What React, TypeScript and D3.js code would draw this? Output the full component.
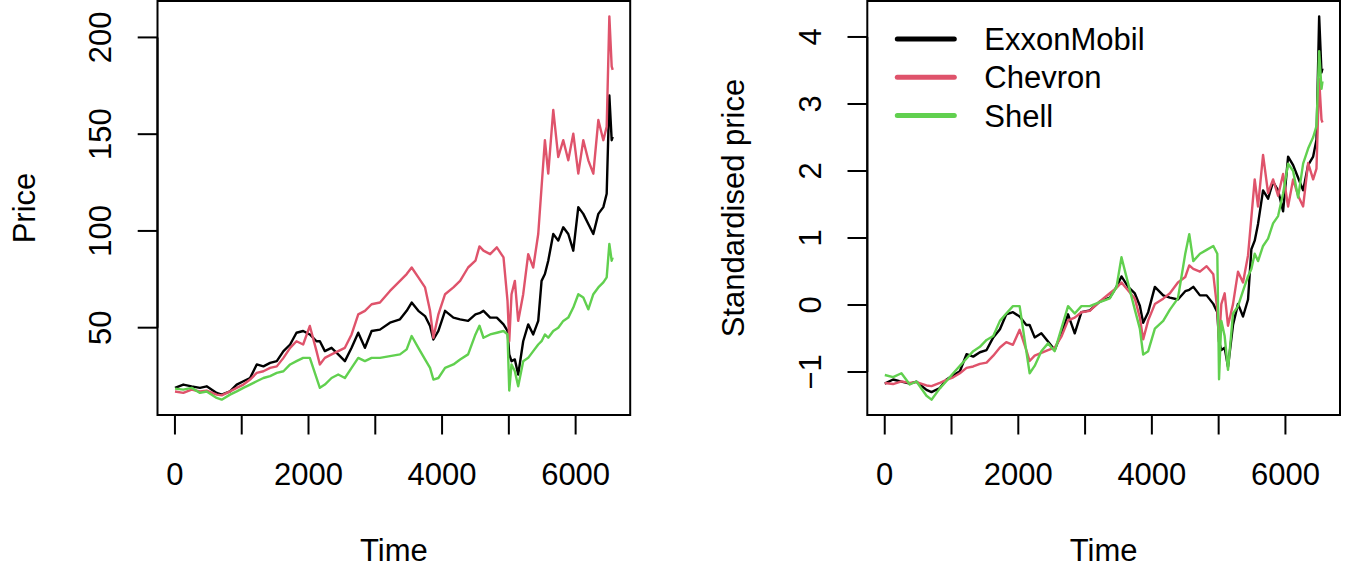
import React, { useEffect, useRef } from 'react'
import * as d3 from 'd3'

// trading day index of each reading
const time = [
	1, 125, 250, 375, 475, 625, 700, 825, 925, 1025,
	1125, 1225, 1325, 1425, 1525, 1625, 1725, 1820, 1920, 2020,
	2120, 2170, 2245, 2345, 2445, 2545, 2645, 2745, 2845, 2945,
	3070, 3220, 3370, 3470, 3545, 3645, 3745, 3820, 3870, 3945,
	4045, 4170, 4270, 4390, 4500, 4560, 4620, 4720, 4820, 4920,
	4980, 5006, 5040, 5090, 5140, 5215, 5290, 5365, 5440, 5490,
	5540, 5590, 5665, 5740, 5815, 5890, 5965, 6040, 6115, 6190,
	6265, 6340, 6415, 6465, 6505, 6540, 6555,
]

const exxonPrice = [
	18.9, 20.6, 19.7, 18.9, 19.7, 16.3, 15.4, 17.1, 20.6, 22.3,
	24, 31, 30, 31.8, 32.7, 37.9, 41.3, 47.4, 48.3, 46.5,
	43, 43, 37.9, 39.6, 36.2, 32.7, 39.6, 47.4, 39.6, 48.3,
	49, 52.6, 54.3, 58.7, 63, 58.7, 56, 50.9, 43.9, 48.3,
	58.7, 55.2, 54.3, 53.5, 56.9, 57.5, 58.7, 55.2, 55.2, 51.7,
	48.3, 36.2, 32.7, 33.6, 25.8, 43, 51.7, 46.5, 53.5, 74.2,
	77.7, 84.6, 98.4, 95, 101.9, 98.4, 89.8, 112.3, 108.8, 103.6,
	98.4, 108.8, 112.3, 119.2, 170, 146.9, 148.6,
]

const chevronPrice = [
	17, 16.3, 18, 17, 17.5, 15.4, 15, 17.1, 18.9, 20.6,
	23.2, 26.6, 27.5, 29.2, 30, 34.4, 39.6, 43, 41.3, 50.9,
	37.9, 31, 34.4, 36.2, 37.9, 39.6, 46.5, 56.9, 58.7, 62.1,
	63, 69, 74.2, 77.7, 81.1, 76, 70.8, 58.7, 44.8, 56.9,
	67.3, 70.8, 74.2, 81.1, 84.6, 92, 89.8, 88, 91.5, 86.3,
	63.8, 43, 67.3, 74.2, 53.5, 67.3, 88, 81.1, 98.4, 122.7,
	146.9, 129.6, 162.5, 138.2, 146.9, 136.5, 150.3, 129.6, 146.9, 136.5,
	129.6, 157.3, 146.9, 153.8, 210.9, 185, 183.2,
]

const shellPrice = [
	18.5, 18, 18.9, 16.3, 17, 13.7, 12.8, 15.4, 17.1, 18.9,
	20.6, 22.3, 24, 25, 26.6, 27.5, 31, 32.7, 34.4, 34.4,
	24, 18.9, 20.6, 24, 25.8, 24, 29.2, 34.4, 32.7, 34.4,
	34.4, 35.3, 36.2, 38.8, 45.7, 39.6, 33.6, 29.2, 23.2, 24,
	29.2, 31, 33.6, 36.2, 46.5, 51, 44.8, 46.5, 47.4, 48.3,
	46.5, 17.5, 31, 27.5, 19.7, 32.7, 34.4, 37.9, 41.3, 43,
	46.5, 44.8, 48.3, 50, 53.5, 55.2, 60.4, 67.3, 65.6, 59.5,
	67.3, 70.8, 73.4, 76, 93.3, 84.6, 86.3,
]

const seriesNames = ['ExxonMobil', 'Chevron', 'Shell']
const seriesColors = ['#000000', '#DF536B', '#61D04F']

const timeTicks = [0, 1000, 2000, 3000, 4000, 5000, 6000]
const timeTickLabels = ['0', '', '2000', '', '4000', '', '6000']
const priceTicks = [50, 100, 150, 200]
const priceTickLabels = ['50', '100', '150', '200']
const stdTicks = [-1, 0, 1, 2, 3, 4]
const stdTickLabels = ['\u22121', '0', '1', '2', '3', '4']

// z-score, weighting each reading by the time span it covers
const standardise = (v: number[]) => {
	const w = v.map((_, i) => {
		const a = time[Math.max(i - 1, 0)]
		const b = time[Math.min(i + 1, time.length - 1)]
		return (b - a) / 2
	})
	const W = d3.sum(w)
	const mean = d3.sum(v, (d, i) => d * w[i]) / W
	const sd = Math.sqrt(d3.sum(v, (d, i) => w[i] * (d - mean) ** 2) / W)
	return v.map(d => (d - mean) / sd)
}

const FONT = '"Liberation Sans", Arial, sans-serif'
const FS = 31

// R style range: data extent padded by 4% on each side
const rRange = (vals: number[]) => {
	const [lo, hi] = d3.extent(vals) as [number, number]
	const pad = (hi - lo) * 0.04
	return [lo - pad, hi + pad]
}

const drawPanel = (svg, opts) => {
	const { left, right, top, bottom, series, yTicks, yTickLabels, yTitle, legend } = opts
	const g = svg.append('g')

	const x = d3.scaleLinear().domain(rRange(time)).range([left, right])
	const y = d3.scaleLinear().domain(rRange(series.flat())).range([bottom, top])

	const line = d3
		.line<number>()
		.x((d, i) => x(time[i]))
		.y(d => y(d))

	series.forEach((s, k) => {
		g.append('path')
			.attr('d', line(s))
			.attr('fill', 'none')
			.attr('stroke', seriesColors[k])
			.attr('stroke-width', 2.4)
			.attr('stroke-linejoin', 'round')
	})

	g.append('rect')
		.attr('x', left)
		.attr('y', top)
		.attr('width', right - left)
		.attr('height', bottom - top)
		.attr('fill', 'none')
		.attr('stroke', '#000')
		.attr('stroke-width', 2)

	// x axis
	g.append('line')
		.attr('x1', x(timeTicks[0])).attr('x2', x(timeTicks[timeTicks.length - 1]))
		.attr('y1', bottom).attr('y2', bottom)
		.attr('stroke', '#000').attr('stroke-width', 2)
	timeTicks.forEach((t, i) => {
		g.append('line')
			.attr('x1', x(t)).attr('x2', x(t))
			.attr('y1', bottom).attr('y2', bottom + 19.5)
			.attr('stroke', '#000').attr('stroke-width', 2)
		if (timeTickLabels[i])
			g.append('text')
				.attr('x', x(t)).attr('y', bottom + 70)
				.attr('text-anchor', 'middle')
				.text(timeTickLabels[i])
	})
	g.append('text')
		.attr('x', (left + right) / 2).attr('y', bottom + 146)
		.attr('text-anchor', 'middle')
		.text('Time')

	// y axis
	g.append('line')
		.attr('x1', left).attr('x2', left)
		.attr('y1', y(yTicks[0])).attr('y2', y(yTicks[yTicks.length - 1]))
		.attr('stroke', '#000').attr('stroke-width', 2)
	yTicks.forEach((v, i) => {
		g.append('line')
			.attr('x1', left - 19.8).attr('x2', left)
			.attr('y1', y(v)).attr('y2', y(v))
			.attr('stroke', '#000').attr('stroke-width', 2)
		g.append('text')
			.attr('transform', `translate(${left - 46.5},${y(v)}) rotate(-90)`)
			.attr('text-anchor', 'middle')
			.text(yTickLabels[i])
	})
	g.append('text')
		.attr('transform', `translate(${left - 123},${(top + bottom) / 2}) rotate(-90)`)
		.attr('text-anchor', 'middle')
		.text(yTitle)

	if (legend) {
		seriesNames.forEach((name, k) => {
			const ly = 39 + k * 38.3
			g.append('line')
				.attr('x1', left + 30).attr('x2', left + 87)
				.attr('y1', ly).attr('y2', ly)
				.attr('stroke', seriesColors[k])
				.attr('stroke-width', 5)
				.attr('stroke-linecap', 'round')
			g.append('text')
				.attr('x', left + 117).attr('y', ly + 11)
				.text(name)
		})
	}
}

const App = () => {
	const ref = useRef<SVGSVGElement>(null)

	useEffect(() => {
		const svg = d3.select(ref.current)
		svg.selectAll('*').remove()
		svg.attr('font-family', FONT).attr('font-size', FS).attr('fill', '#000')

		const prices = [exxonPrice, chevronPrice, shellPrice]

		drawPanel(svg, {
			left: 157.5, right: 630.2, top: 1, bottom: 415,
			series: prices,
			yTicks: priceTicks, yTickLabels: priceTickLabels,
			yTitle: 'Price', legend: false,
		})
		drawPanel(svg, {
			left: 867.3, right: 1340, top: 1, bottom: 415,
			series: prices.map(standardise),
			yTicks: stdTicks, yTickLabels: stdTickLabels,
			yTitle: 'Standardised price', legend: true,
		})
	}, [])

	return (
		<svg
			ref={ref}
			width={1356}
			height={569}
			style={{ position: 'absolute', left: 0, top: 0, background: '#fff' }}
		></svg>
	)
}

export default App
